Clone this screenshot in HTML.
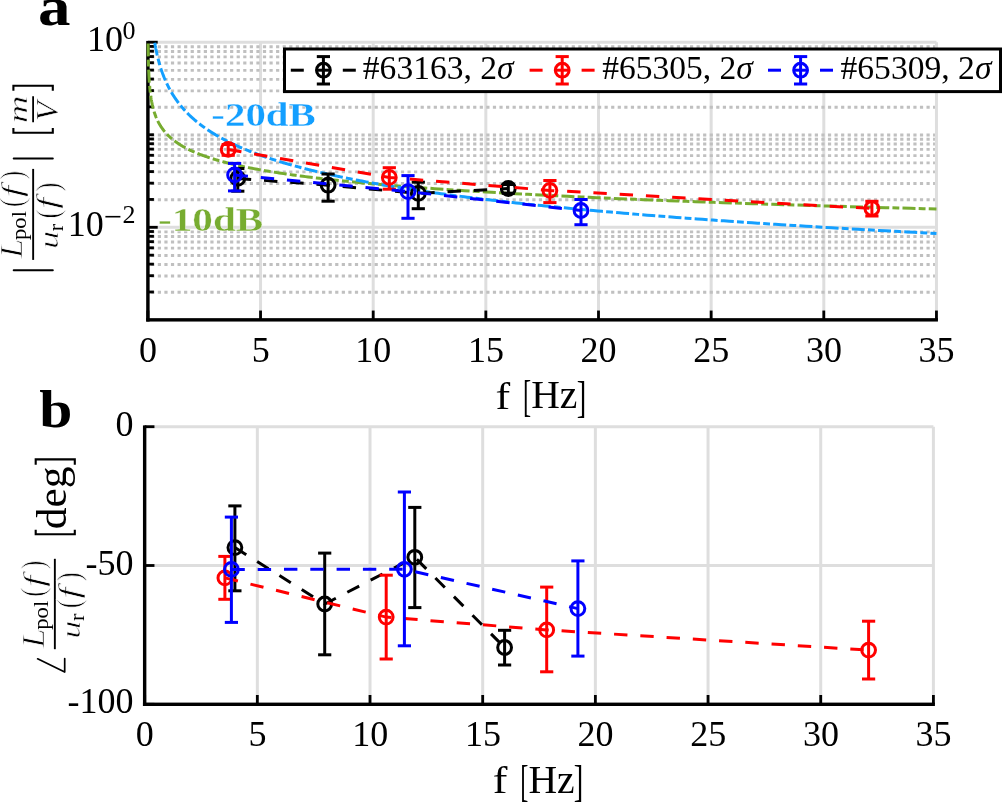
<!DOCTYPE html>
<html><head><meta charset="utf-8"><title>Figure</title>
<style>html,body{margin:0;padding:0;background:#fff;overflow:hidden;} svg{display:block;will-change:transform;}</style>
</head><body>
<svg width="1002" height="802" viewBox="0 0 1002 802"><line x1="147.90" y1="42.20" x2="147.90" y2="319.85" stroke="#dedede" stroke-width="3" />
<line x1="260.55" y1="42.20" x2="260.55" y2="319.85" stroke="#dedede" stroke-width="3" />
<line x1="373.20" y1="42.20" x2="373.20" y2="319.85" stroke="#dedede" stroke-width="3" />
<line x1="485.85" y1="42.20" x2="485.85" y2="319.85" stroke="#dedede" stroke-width="3" />
<line x1="598.50" y1="42.20" x2="598.50" y2="319.85" stroke="#dedede" stroke-width="3" />
<line x1="711.15" y1="42.20" x2="711.15" y2="319.85" stroke="#dedede" stroke-width="3" />
<line x1="823.80" y1="42.20" x2="823.80" y2="319.85" stroke="#dedede" stroke-width="3" />
<line x1="936.45" y1="42.20" x2="936.45" y2="319.85" stroke="#dedede" stroke-width="3" />
<line x1="147.90" y1="42.20" x2="936.45" y2="42.20" stroke="#dedede" stroke-width="3" />
<line x1="147.90" y1="227.30" x2="936.45" y2="227.30" stroke="#dedede" stroke-width="3" />
<line x1="147.90" y1="292.29" x2="934.95" y2="292.29" stroke="#c0c0c0" stroke-width="2.9" stroke-dasharray="3.2 3.37" stroke-dashoffset="3.24"/>
<line x1="147.90" y1="275.99" x2="934.95" y2="275.99" stroke="#c0c0c0" stroke-width="2.9" stroke-dasharray="3.2 3.37" stroke-dashoffset="3.24"/>
<line x1="147.90" y1="264.43" x2="934.95" y2="264.43" stroke="#c0c0c0" stroke-width="2.9" stroke-dasharray="3.2 3.37" stroke-dashoffset="3.24"/>
<line x1="147.90" y1="255.46" x2="934.95" y2="255.46" stroke="#c0c0c0" stroke-width="2.9" stroke-dasharray="3.2 3.37" stroke-dashoffset="3.24"/>
<line x1="147.90" y1="248.13" x2="934.95" y2="248.13" stroke="#c0c0c0" stroke-width="2.9" stroke-dasharray="3.2 3.37" stroke-dashoffset="3.24"/>
<line x1="147.90" y1="241.94" x2="934.95" y2="241.94" stroke="#c0c0c0" stroke-width="2.9" stroke-dasharray="3.2 3.37" stroke-dashoffset="3.24"/>
<line x1="147.90" y1="236.57" x2="934.95" y2="236.57" stroke="#c0c0c0" stroke-width="2.9" stroke-dasharray="3.2 3.37" stroke-dashoffset="3.24"/>
<line x1="147.90" y1="231.83" x2="934.95" y2="231.83" stroke="#c0c0c0" stroke-width="2.9" stroke-dasharray="3.2 3.37" stroke-dashoffset="3.24"/>
<line x1="147.90" y1="199.74" x2="934.95" y2="199.74" stroke="#c0c0c0" stroke-width="2.9" stroke-dasharray="3.2 3.37" stroke-dashoffset="3.24"/>
<line x1="147.90" y1="183.44" x2="934.95" y2="183.44" stroke="#c0c0c0" stroke-width="2.9" stroke-dasharray="3.2 3.37" stroke-dashoffset="3.24"/>
<line x1="147.90" y1="171.88" x2="934.95" y2="171.88" stroke="#c0c0c0" stroke-width="2.9" stroke-dasharray="3.2 3.37" stroke-dashoffset="3.24"/>
<line x1="147.90" y1="162.91" x2="934.95" y2="162.91" stroke="#c0c0c0" stroke-width="2.9" stroke-dasharray="3.2 3.37" stroke-dashoffset="3.24"/>
<line x1="147.90" y1="155.58" x2="934.95" y2="155.58" stroke="#c0c0c0" stroke-width="2.9" stroke-dasharray="3.2 3.37" stroke-dashoffset="3.24"/>
<line x1="147.90" y1="149.39" x2="934.95" y2="149.39" stroke="#c0c0c0" stroke-width="2.9" stroke-dasharray="3.2 3.37" stroke-dashoffset="3.24"/>
<line x1="147.90" y1="144.02" x2="934.95" y2="144.02" stroke="#c0c0c0" stroke-width="2.9" stroke-dasharray="3.2 3.37" stroke-dashoffset="3.24"/>
<line x1="147.90" y1="139.28" x2="934.95" y2="139.28" stroke="#c0c0c0" stroke-width="2.9" stroke-dasharray="3.2 3.37" stroke-dashoffset="3.24"/>
<line x1="147.90" y1="135.05" x2="934.95" y2="135.05" stroke="#c0c0c0" stroke-width="2.9" stroke-dasharray="3.2 3.37" stroke-dashoffset="3.24"/>
<line x1="147.90" y1="107.19" x2="934.95" y2="107.19" stroke="#c0c0c0" stroke-width="2.9" stroke-dasharray="3.2 3.37" stroke-dashoffset="3.24"/>
<line x1="147.90" y1="90.89" x2="934.95" y2="90.89" stroke="#c0c0c0" stroke-width="2.9" stroke-dasharray="3.2 3.37" stroke-dashoffset="3.24"/>
<line x1="147.90" y1="79.33" x2="934.95" y2="79.33" stroke="#c0c0c0" stroke-width="2.9" stroke-dasharray="3.2 3.37" stroke-dashoffset="3.24"/>
<line x1="147.90" y1="70.36" x2="934.95" y2="70.36" stroke="#c0c0c0" stroke-width="2.9" stroke-dasharray="3.2 3.37" stroke-dashoffset="3.24"/>
<line x1="147.90" y1="63.03" x2="934.95" y2="63.03" stroke="#c0c0c0" stroke-width="2.9" stroke-dasharray="3.2 3.37" stroke-dashoffset="3.24"/>
<line x1="147.90" y1="56.84" x2="934.95" y2="56.84" stroke="#c0c0c0" stroke-width="2.9" stroke-dasharray="3.2 3.37" stroke-dashoffset="3.24"/>
<line x1="147.90" y1="51.47" x2="934.95" y2="51.47" stroke="#c0c0c0" stroke-width="2.9" stroke-dasharray="3.2 3.37" stroke-dashoffset="3.24"/>
<line x1="147.90" y1="46.73" x2="934.95" y2="46.73" stroke="#c0c0c0" stroke-width="2.9" stroke-dasharray="3.2 3.37" stroke-dashoffset="3.24"/>
<line x1="144.65" y1="426.70" x2="144.65" y2="704.30" stroke="#dedede" stroke-width="3" />
<line x1="257.33" y1="426.70" x2="257.33" y2="704.30" stroke="#dedede" stroke-width="3" />
<line x1="370.01" y1="426.70" x2="370.01" y2="704.30" stroke="#dedede" stroke-width="3" />
<line x1="482.69" y1="426.70" x2="482.69" y2="704.30" stroke="#dedede" stroke-width="3" />
<line x1="595.37" y1="426.70" x2="595.37" y2="704.30" stroke="#dedede" stroke-width="3" />
<line x1="708.05" y1="426.70" x2="708.05" y2="704.30" stroke="#dedede" stroke-width="3" />
<line x1="820.73" y1="426.70" x2="820.73" y2="704.30" stroke="#dedede" stroke-width="3" />
<line x1="933.41" y1="426.70" x2="933.41" y2="704.30" stroke="#dedede" stroke-width="3" />
<line x1="144.65" y1="426.70" x2="933.41" y2="426.70" stroke="#dedede" stroke-width="3" />
<line x1="144.65" y1="565.50" x2="933.41" y2="565.50" stroke="#dedede" stroke-width="3" />
<rect x="146.20" y="40.90" width="3.4" height="280.65" fill="#000"/>
<rect x="146.20" y="318.15" width="791.75" height="3.4" fill="#000"/>
<rect x="146.50" y="310.55" width="2.8" height="9.3" fill="#000"/>
<rect x="259.15" y="310.55" width="2.8" height="9.3" fill="#000"/>
<rect x="371.80" y="310.55" width="2.8" height="9.3" fill="#000"/>
<rect x="484.45" y="310.55" width="2.8" height="9.3" fill="#000"/>
<rect x="597.10" y="310.55" width="2.8" height="9.3" fill="#000"/>
<rect x="709.75" y="310.55" width="2.8" height="9.3" fill="#000"/>
<rect x="822.40" y="310.55" width="2.8" height="9.3" fill="#000"/>
<rect x="935.05" y="310.55" width="2.8" height="9.3" fill="#000"/>
<rect x="147.90" y="40.80" width="9.8" height="2.8" fill="#000"/>
<rect x="147.90" y="225.90" width="9.8" height="2.8" fill="#000"/>
<rect x="147.90" y="290.59" width="6" height="2.8" fill="#000"/>
<rect x="147.90" y="274.29" width="6" height="2.8" fill="#000"/>
<rect x="147.90" y="262.73" width="6" height="2.8" fill="#000"/>
<rect x="147.90" y="253.76" width="6" height="2.8" fill="#000"/>
<rect x="147.90" y="246.43" width="6" height="2.8" fill="#000"/>
<rect x="147.90" y="240.24" width="6" height="2.8" fill="#000"/>
<rect x="147.90" y="234.87" width="6" height="2.8" fill="#000"/>
<rect x="147.90" y="230.13" width="6" height="2.8" fill="#000"/>
<rect x="147.90" y="198.04" width="6" height="2.8" fill="#000"/>
<rect x="147.90" y="181.74" width="6" height="2.8" fill="#000"/>
<rect x="147.90" y="170.18" width="6" height="2.8" fill="#000"/>
<rect x="147.90" y="161.21" width="6" height="2.8" fill="#000"/>
<rect x="147.90" y="153.88" width="6" height="2.8" fill="#000"/>
<rect x="147.90" y="147.69" width="6" height="2.8" fill="#000"/>
<rect x="147.90" y="142.32" width="6" height="2.8" fill="#000"/>
<rect x="147.90" y="137.58" width="6" height="2.8" fill="#000"/>
<rect x="147.90" y="133.35" width="6" height="2.8" fill="#000"/>
<rect x="147.90" y="105.49" width="6" height="2.8" fill="#000"/>
<rect x="147.90" y="89.19" width="6" height="2.8" fill="#000"/>
<rect x="147.90" y="77.63" width="6" height="2.8" fill="#000"/>
<rect x="147.90" y="68.66" width="6" height="2.8" fill="#000"/>
<rect x="147.90" y="61.33" width="6" height="2.8" fill="#000"/>
<rect x="147.90" y="55.14" width="6" height="2.8" fill="#000"/>
<rect x="147.90" y="49.77" width="6" height="2.8" fill="#000"/>
<rect x="147.90" y="45.03" width="6" height="2.8" fill="#000"/>
<rect x="142.95" y="425.40" width="3.4" height="280.60" fill="#000"/>
<rect x="142.95" y="702.60" width="791.96" height="3.4" fill="#000"/>
<rect x="143.25" y="695.00" width="2.8" height="9.3" fill="#000"/>
<rect x="255.93" y="695.00" width="2.8" height="9.3" fill="#000"/>
<rect x="368.61" y="695.00" width="2.8" height="9.3" fill="#000"/>
<rect x="481.29" y="695.00" width="2.8" height="9.3" fill="#000"/>
<rect x="593.97" y="695.00" width="2.8" height="9.3" fill="#000"/>
<rect x="706.65" y="695.00" width="2.8" height="9.3" fill="#000"/>
<rect x="819.33" y="695.00" width="2.8" height="9.3" fill="#000"/>
<rect x="932.01" y="695.00" width="2.8" height="9.3" fill="#000"/>
<rect x="144.65" y="425.30" width="9.8" height="2.8" fill="#000"/>
<rect x="144.65" y="564.10" width="9.8" height="2.8" fill="#000"/>
<rect x="144.65" y="702.90" width="9.8" height="2.8" fill="#000"/>
<polyline points="148.10,42.20 148.10,42.53 148.10,42.87 148.11,43.20 148.11,43.53 148.11,43.87 148.12,44.20 148.12,44.54 148.12,44.87 148.13,45.20 148.13,45.54 148.14,45.87 148.14,46.20 148.14,46.54 148.15,46.87 148.15,47.20 148.16,47.54 148.16,47.87 148.16,48.20 148.17,48.54 148.17,48.87 148.18,49.21 148.18,49.54 148.19,49.87 148.19,50.21 148.20,50.54 148.20,50.87 148.21,51.21 148.21,51.54 148.22,51.87 148.22,52.21 148.23,52.54 148.23,52.87 148.24,53.21 148.24,53.54 148.25,53.88 148.26,54.21 148.26,54.54 148.27,54.88 148.27,55.21 148.28,55.54 148.29,55.88 148.29,56.21 148.30,56.54 148.31,56.88 148.31,57.21 148.32,57.54 148.33,57.88 148.34,58.21 148.34,58.55 148.35,58.88 148.36,59.21 148.36,59.55 148.37,59.88 148.38,60.21 148.39,60.55 148.40,60.88 148.41,61.21 148.41,61.55 148.42,61.88 148.43,62.21 148.44,62.55 148.45,62.88 148.46,63.22 148.47,63.55 148.48,63.88 148.49,64.22 148.50,64.55 148.51,64.88 148.52,65.22 148.53,65.55 148.54,65.88 148.55,66.22 148.56,66.55 148.57,66.88 148.58,67.22 148.59,67.55 148.60,67.89 148.62,68.22 148.63,68.55 148.64,68.89 148.65,69.22 148.66,69.55 148.68,69.89 148.69,70.22 148.70,70.55 148.72,70.89 148.73,71.22 148.75,71.55 148.76,71.89 148.77,72.22 148.79,72.56 148.80,72.89 148.82,73.22 148.83,73.56 148.85,73.89 148.87,74.22 148.88,74.56 148.90,74.89 148.91,75.22 148.93,75.56 148.95,75.89 148.97,76.22 148.98,76.56 149.00,76.89 149.02,77.23 149.04,77.56 149.06,77.89 149.08,78.23 149.10,78.56 149.12,78.89 149.14,79.23 149.16,79.56 149.18,79.89 149.20,80.23 149.22,80.56 149.25,80.90 149.27,81.23 149.29,81.56 149.31,81.90 149.34,82.23 149.36,82.56 149.39,82.90 149.41,83.23 149.44,83.56 149.46,83.90 149.49,84.23 149.51,84.56 149.54,84.90 149.57,85.23 149.60,85.57 149.63,85.90 149.65,86.23 149.68,86.57 149.71,86.90 149.74,87.23 149.77,87.57 149.81,87.90 149.84,88.23 149.87,88.57 149.90,88.90 149.94,89.23 149.97,89.57 150.01,89.90 150.04,90.24 150.08,90.57 150.11,90.90 150.15,91.24 150.19,91.57 150.23,91.90 150.26,92.24 150.30,92.57 150.34,92.90 150.39,93.24 150.43,93.57 150.47,93.90 150.51,94.24 150.56,94.57 150.60,94.91 150.65,95.24 150.69,95.57 150.74,95.91 150.79,96.24 150.83,96.57 150.88,96.91 150.93,97.24 150.98,97.57 151.04,97.91 151.09,98.24 151.14,98.57 151.20,98.91 151.25,99.24 151.31,99.58 151.36,99.91 151.42,100.24 151.48,100.58 151.54,100.91 151.60,101.24 151.66,101.58 151.73,101.91 151.79,102.24 151.86,102.58 151.92,102.91 151.99,103.24 152.06,103.58 152.13,103.91 152.20,104.25 152.27,104.58 152.34,104.91 152.42,105.25 152.49,105.58 152.57,105.91 152.65,106.25 152.73,106.58 152.81,106.91 152.89,107.25 152.97,107.58 153.06,107.91 153.15,108.25 153.23,108.58 153.32,108.92 153.41,109.25 153.51,109.58 153.60,109.92 153.70,110.25 153.79,110.58 153.89,110.92 153.99,111.25 154.09,111.58 154.20,111.92 154.30,112.25 154.41,112.59 154.52,112.92 154.63,113.25 154.74,113.59 154.86,113.92 154.97,114.25 155.09,114.59 155.21,114.92 155.33,115.25 155.46,115.59 155.58,115.92 155.71,116.25 155.84,116.59 155.98,116.92 156.11,117.26 156.25,117.59 156.39,117.92 156.53,118.26 156.68,118.59 156.82,118.92 156.97,119.26 157.12,119.59 157.28,119.92 157.44,120.26 157.59,120.59 157.76,120.92 157.92,121.26 158.09,121.59 158.26,121.93 158.43,122.26 158.61,122.59 158.79,122.93 158.97,123.26 159.16,123.59 159.35,123.93 159.54,124.26 159.73,124.59 159.93,124.93 160.13,125.26 160.34,125.59 160.54,125.93 160.76,126.26 160.97,126.60 161.19,126.93 161.41,127.26 161.64,127.60 161.87,127.93 162.10,128.26 162.34,128.60 162.58,128.93 162.83,129.26 163.08,129.60 163.33,129.93 163.59,130.26 163.85,130.60 164.12,130.93 164.39,131.27 164.67,131.60 164.95,131.93 165.23,132.27 165.52,132.60 165.82,132.93 166.12,133.27 166.42,133.60 166.73,133.93 167.05,134.27 167.37,134.60 167.69,134.93 168.02,135.27 168.36,135.60 168.70,135.94 169.05,136.27 169.41,136.60 169.77,136.94 170.13,137.27 170.50,137.60 170.88,137.94 171.27,138.27 171.66,138.60 172.06,138.94 172.46,139.27 172.87,139.60 173.29,139.94 173.71,140.27 174.15,140.61 174.59,140.94 175.03,141.27 175.49,141.61 175.95,141.94 176.42,142.27 176.89,142.61 177.38,142.94 177.87,143.27 178.37,143.61 178.88,143.94 179.40,144.27 179.93,144.61 180.47,144.94 181.01,145.28 181.57,145.61 182.13,145.94 182.70,146.28 183.29,146.61 183.88,146.94 184.48,147.28 185.09,147.61 185.71,147.94 186.35,148.28 186.99,148.61 187.64,148.95 188.31,149.28 188.99,149.61 189.67,149.95 190.37,150.28 191.08,150.61 191.81,150.95 192.54,151.28 193.29,151.61 194.05,151.95 194.82,152.28 195.61,152.61 196.40,152.95 197.22,153.28 198.04,153.62 198.88,153.95 199.73,154.28 200.60,154.62 201.48,154.95 202.38,155.28 203.29,155.62 204.22,155.95 205.16,156.28 206.12,156.62 207.10,156.95 208.09,157.28 209.09,157.62 210.12,157.95 211.16,158.29 212.22,158.62 213.29,158.95 214.39,159.29 215.50,159.62 216.63,159.95 217.78,160.29 218.95,160.62 220.14,160.95 221.35,161.29 222.58,161.62 223.83,161.95 225.10,162.29 226.39,162.62 227.71,162.96 229.04,163.29 230.40,163.62 231.78,163.96 233.19,164.29 234.61,164.62 236.06,164.96 237.54,165.29 239.04,165.62 240.57,165.96 242.12,166.29 243.69,166.62 245.30,166.96 246.93,167.29 248.58,167.63 250.27,167.96 251.98,168.29 253.72,168.63 255.50,168.96 257.30,169.29 259.13,169.63 260.99,169.96 262.88,170.29 264.81,170.63 266.76,170.96 268.75,171.29 270.78,171.63 272.83,171.96 274.92,172.30 277.05,172.63 279.21,172.96 281.41,173.30 283.64,173.63 285.91,173.96 288.22,174.30 290.57,174.63 292.96,174.96 295.39,175.30 297.86,175.63 300.37,175.96 302.92,176.30 305.51,176.63 308.15,176.97 310.83,177.30 313.56,177.63 316.33,177.97 319.15,178.30 322.02,178.63 324.93,178.97 327.90,179.30 330.91,179.63 333.97,179.97 337.09,180.30 340.25,180.64 343.47,180.97 346.74,181.30 350.07,181.64 353.46,181.97 356.90,182.30 360.40,182.64 363.95,182.97 367.57,183.30 371.24,183.64 374.98,183.97 378.78,184.30 382.65,184.64 386.58,184.97 390.57,185.31 394.63,185.64 398.76,185.97 402.96,186.31 407.23,186.64 411.57,186.97 415.98,187.31 420.47,187.64 425.03,187.97 429.67,188.31 434.39,188.64 439.18,188.97 444.06,189.31 449.01,189.64 454.05,189.98 459.18,190.31 464.39,190.64 469.68,190.98 475.07,191.31 480.55,191.64 486.11,191.98 491.77,192.31 497.53,192.64 503.38,192.98 509.33,193.31 515.38,193.64 521.53,193.98 527.78,194.31 534.14,194.65 540.61,194.98 547.18,195.31 553.86,195.65 560.66,195.98 567.56,196.31 574.59,196.65 581.73,196.98 588.99,197.31 596.37,197.65 603.88,197.98 611.51,198.31 619.27,198.65 627.16,198.98 635.18,199.32 643.34,199.65 651.63,199.98 660.06,200.32 668.63,200.65 677.35,200.98 686.21,201.32 695.22,201.65 704.38,201.98 713.69,202.32 723.16,202.65 732.79,202.98 742.58,203.32 752.53,203.65 762.65,203.99 772.94,204.32 783.40,204.65 794.04,204.99 804.85,205.32 815.85,205.65 827.03,205.99 838.39,206.32 849.95,206.65 861.70,206.99 873.65,207.32 885.80,207.65 898.15,207.99 910.70,208.32 923.47,208.66 936.45,208.99" fill="none" stroke="#77ac30" stroke-width="3.0" stroke-dasharray="13 3.2 6.85 3.2" stroke-dashoffset="-1.2"/>
<polyline points="154.66,42.20 154.72,42.58 154.79,42.97 154.85,43.35 154.92,43.73 154.99,44.11 155.06,44.50 155.12,44.88 155.19,45.26 155.26,45.64 155.33,46.03 155.41,46.41 155.48,46.79 155.55,47.17 155.62,47.56 155.70,47.94 155.77,48.32 155.85,48.70 155.92,49.09 156.00,49.47 156.08,49.85 156.15,50.23 156.23,50.62 156.31,51.00 156.39,51.38 156.47,51.76 156.56,52.15 156.64,52.53 156.72,52.91 156.81,53.30 156.89,53.68 156.98,54.06 157.07,54.44 157.15,54.83 157.24,55.21 157.33,55.59 157.42,55.97 157.51,56.36 157.60,56.74 157.70,57.12 157.79,57.50 157.89,57.89 157.98,58.27 158.08,58.65 158.17,59.03 158.27,59.42 158.37,59.80 158.47,60.18 158.57,60.56 158.68,60.95 158.78,61.33 158.88,61.71 158.99,62.09 159.09,62.48 159.20,62.86 159.31,63.24 159.42,63.63 159.53,64.01 159.64,64.39 159.75,64.77 159.87,65.16 159.98,65.54 160.10,65.92 160.21,66.30 160.33,66.69 160.45,67.07 160.57,67.45 160.69,67.83 160.81,68.22 160.94,68.60 161.06,68.98 161.19,69.36 161.31,69.75 161.44,70.13 161.57,70.51 161.70,70.89 161.83,71.28 161.97,71.66 162.10,72.04 162.24,72.42 162.37,72.81 162.51,73.19 162.65,73.57 162.79,73.96 162.94,74.34 163.08,74.72 163.22,75.10 163.37,75.49 163.52,75.87 163.67,76.25 163.82,76.63 163.97,77.02 164.13,77.40 164.28,77.78 164.44,78.16 164.60,78.55 164.76,78.93 164.92,79.31 165.08,79.69 165.24,80.08 165.41,80.46 165.58,80.84 165.75,81.22 165.92,81.61 166.09,81.99 166.26,82.37 166.44,82.75 166.62,83.14 166.79,83.52 166.98,83.90 167.16,84.29 167.34,84.67 167.53,85.05 167.72,85.43 167.91,85.82 168.10,86.20 168.29,86.58 168.48,86.96 168.68,87.35 168.88,87.73 169.08,88.11 169.28,88.49 169.49,88.88 169.69,89.26 169.90,89.64 170.11,90.02 170.33,90.41 170.54,90.79 170.76,91.17 170.98,91.55 171.20,91.94 171.42,92.32 171.64,92.70 171.87,93.08 172.10,93.47 172.33,93.85 172.57,94.23 172.80,94.62 173.04,95.00 173.28,95.38 173.52,95.76 173.77,96.15 174.02,96.53 174.27,96.91 174.52,97.29 174.77,97.68 175.03,98.06 175.29,98.44 175.55,98.82 175.81,99.21 176.08,99.59 176.35,99.97 176.62,100.35 176.90,100.74 177.18,101.12 177.46,101.50 177.74,101.88 178.02,102.27 178.31,102.65 178.60,103.03 178.90,103.41 179.19,103.80 179.49,104.18 179.79,104.56 180.10,104.95 180.41,105.33 180.72,105.71 181.03,106.09 181.35,106.48 181.67,106.86 181.99,107.24 182.32,107.62 182.65,108.01 182.98,108.39 183.31,108.77 183.65,109.15 184.00,109.54 184.34,109.92 184.69,110.30 185.04,110.68 185.40,111.07 185.75,111.45 186.12,111.83 186.48,112.21 186.85,112.60 187.22,112.98 187.60,113.36 187.98,113.74 188.36,114.13 188.75,114.51 189.14,114.89 189.53,115.28 189.93,115.66 190.33,116.04 190.74,116.42 191.15,116.81 191.56,117.19 191.98,117.57 192.40,117.95 192.83,118.34 193.26,118.72 193.69,119.10 194.13,119.48 194.57,119.87 195.02,120.25 195.47,120.63 195.92,121.01 196.38,121.40 196.85,121.78 197.32,122.16 197.79,122.54 198.27,122.93 198.75,123.31 199.23,123.69 199.72,124.07 200.22,124.46 200.72,124.84 201.23,125.22 201.74,125.61 202.25,125.99 202.77,126.37 203.30,126.75 203.83,127.14 204.36,127.52 204.90,127.90 205.45,128.28 206.00,128.67 206.55,129.05 207.11,129.43 207.68,129.81 208.25,130.20 208.83,130.58 209.41,130.96 210.00,131.34 210.59,131.73 211.19,132.11 211.80,132.49 212.41,132.87 213.03,133.26 213.65,133.64 214.28,134.02 214.91,134.40 215.55,134.79 216.20,135.17 216.85,135.55 217.51,135.94 218.18,136.32 218.85,136.70 219.53,137.08 220.21,137.47 220.91,137.85 221.60,138.23 222.31,138.61 223.02,139.00 223.74,139.38 224.46,139.76 225.20,140.14 225.94,140.53 226.68,140.91 227.44,141.29 228.20,141.67 228.96,142.06 229.74,142.44 230.52,142.82 231.31,143.20 232.11,143.59 232.92,143.97 233.73,144.35 234.55,144.73 235.38,145.12 236.21,145.50 237.06,145.88 237.91,146.26 238.77,146.65 239.64,147.03 240.52,147.41 241.41,147.80 242.30,148.18 243.20,148.56 244.11,148.94 245.03,149.33 245.96,149.71 246.90,150.09 247.85,150.47 248.80,150.86 249.77,151.24 250.74,151.62 251.73,152.00 252.72,152.39 253.72,152.77 254.73,153.15 255.76,153.53 256.79,153.92 257.83,154.30 258.88,154.68 259.94,155.06 261.01,155.45 262.10,155.83 263.19,156.21 264.29,156.59 265.40,156.98 266.53,157.36 267.66,157.74 268.81,158.13 269.96,158.51 271.13,158.89 272.31,159.27 273.50,159.66 274.70,160.04 275.91,160.42 277.14,160.80 278.37,161.19 279.62,161.57 280.88,161.95 282.15,162.33 283.44,162.72 284.73,163.10 286.04,163.48 287.36,163.86 288.70,164.25 290.04,164.63 291.40,165.01 292.78,165.39 294.16,165.78 295.56,166.16 296.97,166.54 298.40,166.92 299.84,167.31 301.29,167.69 302.76,168.07 304.24,168.46 305.73,168.84 307.24,169.22 308.77,169.60 310.31,169.99 311.86,170.37 313.43,170.75 315.01,171.13 316.61,171.52 318.22,171.90 319.85,172.28 321.50,172.66 323.16,173.05 324.83,173.43 326.52,173.81 328.23,174.19 329.96,174.58 331.70,174.96 333.46,175.34 335.23,175.72 337.02,176.11 338.83,176.49 340.66,176.87 342.50,177.25 344.36,177.64 346.24,178.02 348.14,178.40 350.05,178.79 351.99,179.17 353.94,179.55 355.91,179.93 357.90,180.32 359.91,180.70 361.94,181.08 363.98,181.46 366.05,181.85 368.14,182.23 370.24,182.61 372.37,182.99 374.52,183.38 376.68,183.76 378.87,184.14 381.08,184.52 383.31,184.91 385.56,185.29 387.83,185.67 390.13,186.05 392.45,186.44 394.78,186.82 397.15,187.20 399.53,187.58 401.94,187.97 404.37,188.35 406.82,188.73 409.30,189.12 411.80,189.50 414.32,189.88 416.87,190.26 419.44,190.65 422.04,191.03 424.66,191.41 427.31,191.79 429.98,192.18 432.68,192.56 435.40,192.94 438.15,193.32 440.92,193.71 443.73,194.09 446.56,194.47 449.41,194.85 452.30,195.24 455.21,195.62 458.15,196.00 461.11,196.38 464.11,196.77 467.13,197.15 470.19,197.53 473.27,197.91 476.38,198.30 479.52,198.68 482.69,199.06 485.90,199.45 489.13,199.83 492.39,200.21 495.69,200.59 499.01,200.98 502.37,201.36 505.76,201.74 509.19,202.12 512.64,202.51 516.13,202.89 519.65,203.27 523.21,203.65 526.80,204.04 530.42,204.42 534.08,204.80 537.77,205.18 541.50,205.57 545.26,205.95 549.06,206.33 552.90,206.71 556.78,207.10 560.69,207.48 564.63,207.86 568.62,208.24 572.64,208.63 576.71,209.01 580.81,209.39 584.95,209.78 589.13,210.16 593.35,210.54 597.61,210.92 601.91,211.31 606.25,211.69 610.63,212.07 615.06,212.45 619.53,212.84 624.04,213.22 628.59,213.60 633.19,213.98 637.83,214.37 642.52,214.75 647.25,215.13 652.02,215.51 656.84,215.90 661.71,216.28 666.63,216.66 671.59,217.04 676.60,217.43 681.65,217.81 686.76,218.19 691.91,218.57 697.11,218.96 702.37,219.34 707.67,219.72 713.02,220.11 718.43,220.49 723.88,220.87 729.39,221.25 734.95,221.64 740.57,222.02 746.24,222.40 751.96,222.78 757.74,223.17 763.57,223.55 769.46,223.93 775.40,224.31 781.40,224.70 787.46,225.08 793.58,225.46 799.76,225.84 805.99,226.23 812.28,226.61 818.64,226.99 825.05,227.37 831.53,227.76 838.07,228.14 844.67,228.52 851.33,228.90 858.06,229.29 864.85,229.67 871.71,230.05 878.63,230.44 885.62,230.82 892.68,231.20 899.80,231.58 906.99,231.97 914.25,232.35 921.58,232.73 928.98,233.11 936.45,233.50" fill="none" stroke="#139fff" stroke-width="3.0" stroke-dasharray="13 3.2 6.85 3.2" stroke-dashoffset="-0.55"/>
<polyline points="237.80,178.40 328.10,185.20 418.30,193.40 508.30,188.50" fill="none" stroke="#000000" stroke-width="3.0" stroke-dasharray="13.4 12.9"/>
<line x1="237.80" y1="168.50" x2="237.80" y2="191.20" stroke="#000000" stroke-width="3.0" />
<line x1="231.20" y1="168.50" x2="244.40" y2="168.50" stroke="#000000" stroke-width="3.0" />
<line x1="231.20" y1="191.20" x2="244.40" y2="191.20" stroke="#000000" stroke-width="3.0" />
<circle cx="237.80" cy="178.40" r="6.9" fill="none" stroke="#000000" stroke-width="3.0"/>
<line x1="328.10" y1="174.00" x2="328.10" y2="201.20" stroke="#000000" stroke-width="3.0" />
<line x1="321.50" y1="174.00" x2="334.70" y2="174.00" stroke="#000000" stroke-width="3.0" />
<line x1="321.50" y1="201.20" x2="334.70" y2="201.20" stroke="#000000" stroke-width="3.0" />
<circle cx="328.10" cy="185.20" r="6.9" fill="none" stroke="#000000" stroke-width="3.0"/>
<line x1="418.30" y1="182.20" x2="418.30" y2="208.70" stroke="#000000" stroke-width="3.0" />
<line x1="411.70" y1="182.20" x2="424.90" y2="182.20" stroke="#000000" stroke-width="3.0" />
<line x1="411.70" y1="208.70" x2="424.90" y2="208.70" stroke="#000000" stroke-width="3.0" />
<circle cx="418.30" cy="193.40" r="6.9" fill="none" stroke="#000000" stroke-width="3.0"/>
<line x1="508.30" y1="184.50" x2="508.30" y2="193.20" stroke="#000000" stroke-width="3.0" />
<line x1="501.70" y1="184.50" x2="514.90" y2="184.50" stroke="#000000" stroke-width="3.0" />
<line x1="501.70" y1="193.20" x2="514.90" y2="193.20" stroke="#000000" stroke-width="3.0" />
<circle cx="508.30" cy="188.50" r="6.9" fill="none" stroke="#000000" stroke-width="3.0"/>
<polyline points="228.20,149.40 389.30,177.40 549.90,190.40 871.90,208.50" fill="none" stroke="#ff0000" stroke-width="3.0" stroke-dasharray="13.4 12.9"/>
<line x1="228.20" y1="144.50" x2="228.20" y2="155.30" stroke="#ff0000" stroke-width="3.0" />
<line x1="221.60" y1="144.50" x2="234.80" y2="144.50" stroke="#ff0000" stroke-width="3.0" />
<line x1="221.60" y1="155.30" x2="234.80" y2="155.30" stroke="#ff0000" stroke-width="3.0" />
<circle cx="228.20" cy="149.40" r="6.9" fill="none" stroke="#ff0000" stroke-width="3.0"/>
<line x1="389.30" y1="167.70" x2="389.30" y2="189.20" stroke="#ff0000" stroke-width="3.0" />
<line x1="382.70" y1="167.70" x2="395.90" y2="167.70" stroke="#ff0000" stroke-width="3.0" />
<line x1="382.70" y1="189.20" x2="395.90" y2="189.20" stroke="#ff0000" stroke-width="3.0" />
<circle cx="389.30" cy="177.40" r="6.9" fill="none" stroke="#ff0000" stroke-width="3.0"/>
<line x1="549.90" y1="180.50" x2="549.90" y2="202.60" stroke="#ff0000" stroke-width="3.0" />
<line x1="543.30" y1="180.50" x2="556.50" y2="180.50" stroke="#ff0000" stroke-width="3.0" />
<line x1="543.30" y1="202.60" x2="556.50" y2="202.60" stroke="#ff0000" stroke-width="3.0" />
<circle cx="549.90" cy="190.40" r="6.9" fill="none" stroke="#ff0000" stroke-width="3.0"/>
<line x1="871.90" y1="201.30" x2="871.90" y2="216.00" stroke="#ff0000" stroke-width="3.0" />
<line x1="865.30" y1="201.30" x2="878.50" y2="201.30" stroke="#ff0000" stroke-width="3.0" />
<line x1="865.30" y1="216.00" x2="878.50" y2="216.00" stroke="#ff0000" stroke-width="3.0" />
<circle cx="871.90" cy="208.50" r="6.9" fill="none" stroke="#ff0000" stroke-width="3.0"/>
<polyline points="234.60,174.90 408.00,191.60 581.00,210.50" fill="none" stroke="#0000ff" stroke-width="3.0" stroke-dasharray="13.4 12.9"/>
<line x1="234.60" y1="163.40" x2="234.60" y2="190.90" stroke="#0000ff" stroke-width="3.0" />
<line x1="228.00" y1="163.40" x2="241.20" y2="163.40" stroke="#0000ff" stroke-width="3.0" />
<line x1="228.00" y1="190.90" x2="241.20" y2="190.90" stroke="#0000ff" stroke-width="3.0" />
<circle cx="234.60" cy="174.90" r="6.9" fill="none" stroke="#0000ff" stroke-width="3.0"/>
<line x1="408.00" y1="175.60" x2="408.00" y2="218.30" stroke="#0000ff" stroke-width="3.0" />
<line x1="401.40" y1="175.60" x2="414.60" y2="175.60" stroke="#0000ff" stroke-width="3.0" />
<line x1="401.40" y1="218.30" x2="414.60" y2="218.30" stroke="#0000ff" stroke-width="3.0" />
<circle cx="408.00" cy="191.60" r="6.9" fill="none" stroke="#0000ff" stroke-width="3.0"/>
<line x1="581.00" y1="199.50" x2="581.00" y2="224.70" stroke="#0000ff" stroke-width="3.0" />
<line x1="574.40" y1="199.50" x2="587.60" y2="199.50" stroke="#0000ff" stroke-width="3.0" />
<line x1="574.40" y1="224.70" x2="587.60" y2="224.70" stroke="#0000ff" stroke-width="3.0" />
<circle cx="581.00" cy="210.50" r="6.9" fill="none" stroke="#0000ff" stroke-width="3.0"/>
<polyline points="234.90,547.60 324.70,604.00 414.80,557.30 504.60,647.50" fill="none" stroke="#000000" stroke-width="3.0" stroke-dasharray="13.4 12.9"/>
<line x1="234.90" y1="505.90" x2="234.90" y2="590.80" stroke="#000000" stroke-width="3.0" />
<line x1="228.30" y1="505.90" x2="241.50" y2="505.90" stroke="#000000" stroke-width="3.0" />
<line x1="228.30" y1="590.80" x2="241.50" y2="590.80" stroke="#000000" stroke-width="3.0" />
<circle cx="234.90" cy="547.60" r="6.9" fill="none" stroke="#000000" stroke-width="3.0"/>
<line x1="324.70" y1="553.10" x2="324.70" y2="654.80" stroke="#000000" stroke-width="3.0" />
<line x1="318.10" y1="553.10" x2="331.30" y2="553.10" stroke="#000000" stroke-width="3.0" />
<line x1="318.10" y1="654.80" x2="331.30" y2="654.80" stroke="#000000" stroke-width="3.0" />
<circle cx="324.70" cy="604.00" r="6.9" fill="none" stroke="#000000" stroke-width="3.0"/>
<line x1="414.80" y1="507.40" x2="414.80" y2="607.60" stroke="#000000" stroke-width="3.0" />
<line x1="408.20" y1="507.40" x2="421.40" y2="507.40" stroke="#000000" stroke-width="3.0" />
<line x1="408.20" y1="607.60" x2="421.40" y2="607.60" stroke="#000000" stroke-width="3.0" />
<circle cx="414.80" cy="557.30" r="6.9" fill="none" stroke="#000000" stroke-width="3.0"/>
<line x1="504.60" y1="630.30" x2="504.60" y2="665.00" stroke="#000000" stroke-width="3.0" />
<line x1="498.00" y1="630.30" x2="511.20" y2="630.30" stroke="#000000" stroke-width="3.0" />
<line x1="498.00" y1="665.00" x2="511.20" y2="665.00" stroke="#000000" stroke-width="3.0" />
<circle cx="504.60" cy="647.50" r="6.9" fill="none" stroke="#000000" stroke-width="3.0"/>
<polyline points="224.90,577.90 386.20,617.10 546.70,629.90 868.60,650.10" fill="none" stroke="#ff0000" stroke-width="3.0" stroke-dasharray="13.4 12.9"/>
<line x1="224.90" y1="556.40" x2="224.90" y2="599.30" stroke="#ff0000" stroke-width="3.0" />
<line x1="218.30" y1="556.40" x2="231.50" y2="556.40" stroke="#ff0000" stroke-width="3.0" />
<line x1="218.30" y1="599.30" x2="231.50" y2="599.30" stroke="#ff0000" stroke-width="3.0" />
<circle cx="224.90" cy="577.90" r="6.9" fill="none" stroke="#ff0000" stroke-width="3.0"/>
<line x1="386.20" y1="575.20" x2="386.20" y2="659.00" stroke="#ff0000" stroke-width="3.0" />
<line x1="379.60" y1="575.20" x2="392.80" y2="575.20" stroke="#ff0000" stroke-width="3.0" />
<line x1="379.60" y1="659.00" x2="392.80" y2="659.00" stroke="#ff0000" stroke-width="3.0" />
<circle cx="386.20" cy="617.10" r="6.9" fill="none" stroke="#ff0000" stroke-width="3.0"/>
<line x1="546.70" y1="587.10" x2="546.70" y2="671.80" stroke="#ff0000" stroke-width="3.0" />
<line x1="540.10" y1="587.10" x2="553.30" y2="587.10" stroke="#ff0000" stroke-width="3.0" />
<line x1="540.10" y1="671.80" x2="553.30" y2="671.80" stroke="#ff0000" stroke-width="3.0" />
<circle cx="546.70" cy="629.90" r="6.9" fill="none" stroke="#ff0000" stroke-width="3.0"/>
<line x1="868.60" y1="621.20" x2="868.60" y2="679.00" stroke="#ff0000" stroke-width="3.0" />
<line x1="862.00" y1="621.20" x2="875.20" y2="621.20" stroke="#ff0000" stroke-width="3.0" />
<line x1="862.00" y1="679.00" x2="875.20" y2="679.00" stroke="#ff0000" stroke-width="3.0" />
<circle cx="868.60" cy="650.10" r="6.9" fill="none" stroke="#ff0000" stroke-width="3.0"/>
<polyline points="231.40,569.40 404.40,569.30 577.90,608.60" fill="none" stroke="#0000ff" stroke-width="3.0" stroke-dasharray="13.4 12.9"/>
<line x1="231.40" y1="517.10" x2="231.40" y2="622.40" stroke="#0000ff" stroke-width="3.0" />
<line x1="224.80" y1="517.10" x2="238.00" y2="517.10" stroke="#0000ff" stroke-width="3.0" />
<line x1="224.80" y1="622.40" x2="238.00" y2="622.40" stroke="#0000ff" stroke-width="3.0" />
<circle cx="231.40" cy="569.40" r="6.9" fill="none" stroke="#0000ff" stroke-width="3.0"/>
<line x1="404.40" y1="492.00" x2="404.40" y2="645.80" stroke="#0000ff" stroke-width="3.0" />
<line x1="397.80" y1="492.00" x2="411.00" y2="492.00" stroke="#0000ff" stroke-width="3.0" />
<line x1="397.80" y1="645.80" x2="411.00" y2="645.80" stroke="#0000ff" stroke-width="3.0" />
<circle cx="404.40" cy="569.30" r="6.9" fill="none" stroke="#0000ff" stroke-width="3.0"/>
<line x1="577.90" y1="560.90" x2="577.90" y2="656.10" stroke="#0000ff" stroke-width="3.0" />
<line x1="571.30" y1="560.90" x2="584.50" y2="560.90" stroke="#0000ff" stroke-width="3.0" />
<line x1="571.30" y1="656.10" x2="584.50" y2="656.10" stroke="#0000ff" stroke-width="3.0" />
<circle cx="577.90" cy="608.60" r="6.9" fill="none" stroke="#0000ff" stroke-width="3.0"/>
<text x="148.00" y="361.90" font-family="Liberation Serif" font-size="36" text-anchor="middle" >0</text>
<text x="144.85" y="745.50" font-family="Liberation Serif" font-size="36" text-anchor="middle" >0</text>
<text x="260.65" y="361.90" font-family="Liberation Serif" font-size="36" text-anchor="middle" >5</text>
<text x="257.53" y="745.50" font-family="Liberation Serif" font-size="36" text-anchor="middle" >5</text>
<text x="373.30" y="361.90" font-family="Liberation Serif" font-size="36" text-anchor="middle" >10</text>
<text x="370.21" y="745.50" font-family="Liberation Serif" font-size="36" text-anchor="middle" >10</text>
<text x="485.95" y="361.90" font-family="Liberation Serif" font-size="36" text-anchor="middle" >15</text>
<text x="482.89" y="745.50" font-family="Liberation Serif" font-size="36" text-anchor="middle" >15</text>
<text x="598.60" y="361.90" font-family="Liberation Serif" font-size="36" text-anchor="middle" >20</text>
<text x="595.57" y="745.50" font-family="Liberation Serif" font-size="36" text-anchor="middle" >20</text>
<text x="711.25" y="361.90" font-family="Liberation Serif" font-size="36" text-anchor="middle" >25</text>
<text x="708.25" y="745.50" font-family="Liberation Serif" font-size="36" text-anchor="middle" >25</text>
<text x="823.90" y="361.90" font-family="Liberation Serif" font-size="36" text-anchor="middle" >30</text>
<text x="820.93" y="745.50" font-family="Liberation Serif" font-size="36" text-anchor="middle" >30</text>
<text x="936.55" y="361.90" font-family="Liberation Serif" font-size="36" text-anchor="middle" >35</text>
<text x="933.61" y="745.50" font-family="Liberation Serif" font-size="36" text-anchor="middle" >35</text>
<text x="86.90" y="51.30" font-family="Liberation Serif" font-size="36" text-anchor="start" >10</text>
<text x="122.50" y="38.50" font-family="Liberation Serif" font-size="26" text-anchor="start" >0</text>
<text x="67.80" y="235.80" font-family="Liberation Serif" font-size="36" text-anchor="start" >10</text>
<text x="122.60" y="223.20" font-family="Liberation Serif" font-size="26" text-anchor="start" >2</text>
<line x1="105.40" y1="216.70" x2="120.40" y2="216.70" stroke="#000" stroke-width="1.6" />
<text x="133.60" y="435.90" font-family="Liberation Serif" font-size="36" text-anchor="end" >0</text>
<text x="133.60" y="574.90" font-family="Liberation Serif" font-size="36" text-anchor="end" >-50</text>
<text x="133.60" y="713.40" font-family="Liberation Serif" font-size="36" text-anchor="end" >-100</text>
<text x="0" y="25.158" font-family="Liberation Serif" font-size="54.167" font-weight="bold" transform="translate(38.050,0) scale(1.2000,1)">a</text>
<text x="0" y="426.576" font-family="Liberation Serif" font-size="52.429" font-weight="bold" transform="translate(39.304,0) scale(1.1369,1)">b</text>
<text x="0" y="408.600" font-family="Liberation Serif" font-size="38.873"  transform="translate(495.480,0) scale(1.1319,1)">f</text>
<text x="0" y="411.505" font-family="Liberation Serif" font-size="44.578"  transform="translate(522.996,0) scale(0.5462,1)">[</text>
<text x="0" y="408.203" font-family="Liberation Serif" font-size="39.697"  transform="translate(531.211,0) scale(0.9986,1)">Hz</text>
<text x="0" y="411.505" font-family="Liberation Serif" font-size="44.578"  transform="translate(576.655,0) scale(0.6424,1)">]</text>
<text x="0" y="793.100" font-family="Liberation Serif" font-size="38.873"  transform="translate(492.680,0) scale(1.1319,1)">f</text>
<text x="0" y="796.005" font-family="Liberation Serif" font-size="44.578"  transform="translate(520.196,0) scale(0.5462,1)">[</text>
<text x="0" y="792.703" font-family="Liberation Serif" font-size="39.697"  transform="translate(528.411,0) scale(0.9986,1)">Hz</text>
<text x="0" y="796.005" font-family="Liberation Serif" font-size="44.578"  transform="translate(573.855,0) scale(0.6424,1)">]</text>
<text x="0" y="126.124" font-family="Liberation Serif" font-size="33.803" font-weight="bold" fill="#139fff" stroke="#fff" stroke-width="0.3" transform="translate(211.365,0) scale(1.2095,1)">-20dB</text>
<text x="0" y="230.741" font-family="Liberation Serif" font-size="32.958" font-weight="bold" fill="#77ac30" stroke="#fff" stroke-width="0.3" transform="translate(158.053,0) scale(1.2490,1)">-10dB</text>
<rect x="284.5" y="49" width="716" height="42.6" fill="#fff" stroke="#000" stroke-width="3"/>
<line x1="290.80" y1="70.20" x2="303.80" y2="70.20" stroke="#000000" stroke-width="3.0" />
<line x1="316.80" y1="70.20" x2="329.80" y2="70.20" stroke="#000000" stroke-width="3.0" />
<line x1="342.80" y1="70.20" x2="355.80" y2="70.20" stroke="#000000" stroke-width="3.0" />
<line x1="323.40" y1="56.60" x2="323.40" y2="84.00" stroke="#000000" stroke-width="3.0" />
<line x1="316.80" y1="56.60" x2="330.00" y2="56.60" stroke="#000000" stroke-width="3.0" />
<line x1="316.80" y1="84.00" x2="330.00" y2="84.00" stroke="#000000" stroke-width="3.0" />
<circle cx="323.40" cy="70.2" r="6.9" fill="none" stroke="#000000" stroke-width="3.0"/>
<line x1="529.60" y1="70.20" x2="542.60" y2="70.20" stroke="#ff0000" stroke-width="3.0" />
<line x1="555.60" y1="70.20" x2="568.60" y2="70.20" stroke="#ff0000" stroke-width="3.0" />
<line x1="581.60" y1="70.20" x2="594.60" y2="70.20" stroke="#ff0000" stroke-width="3.0" />
<line x1="562.20" y1="56.60" x2="562.20" y2="84.00" stroke="#ff0000" stroke-width="3.0" />
<line x1="555.60" y1="56.60" x2="568.80" y2="56.60" stroke="#ff0000" stroke-width="3.0" />
<line x1="555.60" y1="84.00" x2="568.80" y2="84.00" stroke="#ff0000" stroke-width="3.0" />
<circle cx="562.20" cy="70.2" r="6.9" fill="none" stroke="#ff0000" stroke-width="3.0"/>
<line x1="768.00" y1="70.20" x2="781.00" y2="70.20" stroke="#0000ff" stroke-width="3.0" />
<line x1="794.00" y1="70.20" x2="807.00" y2="70.20" stroke="#0000ff" stroke-width="3.0" />
<line x1="820.00" y1="70.20" x2="833.00" y2="70.20" stroke="#0000ff" stroke-width="3.0" />
<line x1="800.60" y1="56.60" x2="800.60" y2="84.00" stroke="#0000ff" stroke-width="3.0" />
<line x1="794.00" y1="56.60" x2="807.20" y2="56.60" stroke="#0000ff" stroke-width="3.0" />
<line x1="794.00" y1="84.00" x2="807.20" y2="84.00" stroke="#0000ff" stroke-width="3.0" />
<circle cx="800.60" cy="70.2" r="6.9" fill="none" stroke="#0000ff" stroke-width="3.0"/>
<text x="0" y="78.612" font-family="Liberation Serif" font-size="33.049"  transform="translate(362.829,0) scale(1.0153,1)">#63163, 2<tspan font-style="italic">σ</tspan></text>
<text x="0" y="78.612" font-family="Liberation Serif" font-size="33.049"  transform="translate(602.129,0) scale(1.0153,1)">#65305, 2<tspan font-style="italic">σ</tspan></text>
<text x="0" y="78.612" font-family="Liberation Serif" font-size="33.049"  transform="translate(840.528,0) scale(1.0167,1)">#65309, 2<tspan font-style="italic">σ</tspan></text>
<line x1="13.70" y1="270.30" x2="52.80" y2="270.30" stroke="#000" stroke-width="2.0" stroke-linecap="round"/>
<line x1="13.70" y1="158.50" x2="52.80" y2="158.50" stroke="#000" stroke-width="2.0" stroke-linecap="round"/>
<line x1="33.15" y1="168.90" x2="33.15" y2="259.90" stroke="#000" stroke-width="1.9" />
<line x1="33.10" y1="96.30" x2="33.10" y2="122.30" stroke="#000" stroke-width="1.8" />
<path d="M13.4,128.1 V132.8 H52.8 V128.1" fill="none" stroke="#000" stroke-width="2.1" />
<path d="M13.4,90.8 V85.8 H52.8 V90.8" fill="none" stroke="#000" stroke-width="2.1" />
<text x="0" y="22.000" font-family="Liberation Serif" font-size="31.077" font-style="italic" stroke="#fff" stroke-width="0.7" transform="rotate(-90) translate(-257.952,0) scale(1.1200,1)">L</text>
<text x="0" y="26.350" font-family="Liberation Serif" font-size="21.667"  transform="rotate(-90) translate(-239.953,0) scale(1.0459,1)">pol</text>
<text x="0" y="22.783" font-family="Liberation Serif" font-size="33.889"  stroke="#fff" stroke-width="0.9" transform="rotate(-90) translate(-207.323,0) scale(0.8285,1)">(</text>
<text x="0" y="21.905" font-family="Liberation Serif" font-size="29.022" font-style="italic" stroke="#fff" stroke-width="0.6" transform="rotate(-90) translate(-197.213,0) scale(1.4236,1)">f</text>
<text x="0" y="22.783" font-family="Liberation Serif" font-size="33.889"  stroke="#fff" stroke-width="0.9" transform="rotate(-90) translate(-179.819,0) scale(0.8058,1)">)</text>
<text x="0" y="57.921" font-family="Liberation Serif" font-size="27.872" font-style="italic" stroke="#fff" stroke-width="0.6" transform="rotate(-90) translate(-249.117,0) scale(1.3039,1)">u</text>
<text x="0" y="62.600" font-family="Liberation Serif" font-size="21.489"  transform="rotate(-90) translate(-231.152,0) scale(1.0508,1)">r</text>
<text x="0" y="58.653" font-family="Liberation Serif" font-size="33.556"  stroke="#fff" stroke-width="0.9" transform="rotate(-90) translate(-218.738,0) scale(0.8482,1)">(</text>
<text x="0" y="57.405" font-family="Liberation Serif" font-size="29.022" font-style="italic" stroke="#fff" stroke-width="0.6" transform="rotate(-90) translate(-208.803,0) scale(1.3873,1)">f</text>
<text x="0" y="58.653" font-family="Liberation Serif" font-size="33.556"  stroke="#fff" stroke-width="0.9" transform="rotate(-90) translate(-191.754,0) scale(0.8482,1)">)</text>
<text x="0" y="27.221" font-family="Liberation Serif" font-size="27.917" font-style="italic" stroke="#fff" stroke-width="0.5" transform="rotate(-90) translate(-123.137,0) scale(1.3769,1)">m</text>
<text x="0" y="57.964" font-family="Liberation Serif" font-size="31.791" font-style="italic" stroke="#fff" stroke-width="0.5" transform="rotate(-90) translate(-120.991,0) scale(1.0009,1)">V</text>
<line x1="54.85" y1="558.80" x2="54.85" y2="649.20" stroke="#000" stroke-width="1.9" />
<path d="M37.6,658.8 L64.7,672 V658.6" fill="none" stroke="#000" stroke-width="1.7" stroke-linecap="round" stroke-linejoin="round"/>
<path d="M35.7,529.7 V534.2 H74.8 V529.7" fill="none" stroke="#000" stroke-width="2.1" />
<path d="M35.7,464.7 V459.4 H74.8 V464.7" fill="none" stroke="#000" stroke-width="2.1" />
<text x="0" y="43.600" font-family="Liberation Serif" font-size="31.077" font-style="italic" stroke="#fff" stroke-width="0.7" transform="rotate(-90) translate(-647.702,0) scale(1.1200,1)">L</text>
<text x="0" y="47.950" font-family="Liberation Serif" font-size="21.667"  transform="rotate(-90) translate(-629.703,0) scale(1.0459,1)">pol</text>
<text x="0" y="44.383" font-family="Liberation Serif" font-size="33.889"  stroke="#fff" stroke-width="0.9" transform="rotate(-90) translate(-597.073,0) scale(0.8285,1)">(</text>
<text x="0" y="43.505" font-family="Liberation Serif" font-size="29.022" font-style="italic" stroke="#fff" stroke-width="0.6" transform="rotate(-90) translate(-586.963,0) scale(1.4236,1)">f</text>
<text x="0" y="44.383" font-family="Liberation Serif" font-size="33.889"  stroke="#fff" stroke-width="0.9" transform="rotate(-90) translate(-569.569,0) scale(0.8058,1)">)</text>
<text x="0" y="79.521" font-family="Liberation Serif" font-size="27.872" font-style="italic" stroke="#fff" stroke-width="0.6" transform="rotate(-90) translate(-638.867,0) scale(1.3039,1)">u</text>
<text x="0" y="84.200" font-family="Liberation Serif" font-size="21.489"  transform="rotate(-90) translate(-620.902,0) scale(1.0508,1)">r</text>
<text x="0" y="80.253" font-family="Liberation Serif" font-size="33.556"  stroke="#fff" stroke-width="0.9" transform="rotate(-90) translate(-608.488,0) scale(0.8482,1)">(</text>
<text x="0" y="79.005" font-family="Liberation Serif" font-size="29.022" font-style="italic" stroke="#fff" stroke-width="0.6" transform="rotate(-90) translate(-598.553,0) scale(1.3873,1)">f</text>
<text x="0" y="80.253" font-family="Liberation Serif" font-size="33.556"  stroke="#fff" stroke-width="0.9" transform="rotate(-90) translate(-581.504,0) scale(0.8482,1)">)</text>
<text x="0" y="65.573" font-family="Liberation Serif" font-size="41.556"  transform="rotate(-90) translate(-529.241,0) scale(1.0474,1)">deg</text></svg>
</body></html>
